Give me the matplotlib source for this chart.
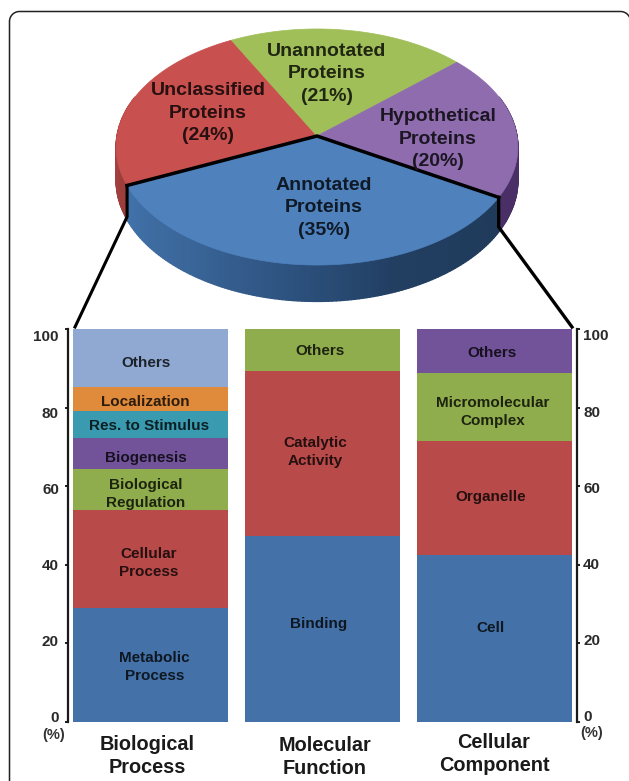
"""
Protein annotation breakdown: tilted pie of all proteins, with the annotated
slice expanded into three stacked GO category columns.

Output: out.png
"""

import matplotlib
import matplotlib.pyplot as plt
import numpy as np
from matplotlib.collections import PolyCollection
from matplotlib.colors import to_rgb
from matplotlib.patches import Polygon

matplotlib.use("Agg")

plt.rcParams["font.family"] = ["Liberation Sans", "DejaVu Sans"]
plt.rcParams["font.weight"] = "bold"

PIE_LABELS = ["Annotated\nProteins\n(35%)", "Unclassified\nProteins\n(24%)",
              "Unannotated\nProteins\n(21%)", "Hypothetical\nProteins\n(20%)"]
PIE_SHARES = [35, 24, 21, 20]
PIE_COLORS = ["#4f81bd", "#c8504e", "#a0bf58", "#8e6cae"]
PIE_LABEL_XY = [(324, 208), (208, 113), (327, 74), (438, 139)]

CATEGORIES = ["Biological\nProcess", "Molecular\nFunction", "Cellular\nComponent"]
CATEGORY_XY = [(147, 756), (325, 757), (494, 754)]

BP_LABELS = ["Metabolic\nProcess", "Cellular\nProcess", "Biological\nRegulation", "Biogenesis",
             "Res. to Stimulus", "Localization", "Others"]
BP_VALUES = [29.0, 25.0, 10.3, 7.9, 7.0, 6.0, 14.8]
BP_COLORS = ["#4472a8", "#b84a4a", "#8fad4c", "#72539a", "#3a9ab0", "#e08b3c", "#8fa9d2"]
BP_SHIFT = [(4, -2), (-2, -4), (-5, -4), (-5, -4), (-1, -2), (-5, -3), (-5, -5)]

MF_LABELS = ["Binding", "Catalytic\nActivity", "Others"]
MF_VALUES = [47.3, 42.1, 10.6]
MF_COLORS = ["#4472a8", "#b84a4a", "#8fad4c"]
MF_SHIFT = [(-4, 5), (-7, 1), (-3, -1)]

CC_LABELS = ["Cell", "Organelle", "Micromolecular\nComplex", "Others"]
CC_VALUES = [42.4, 29.2, 17.2, 11.2]
CC_COLORS = ["#4472a8", "#b84a4a", "#8fad4c", "#72539a"]
CC_SHIFT = [(-4, 11), (-4, 1), (-2, -5), (-2, -2)]

TICKS = [0, 20, 40, 60, 80, 100]

# shading of the pie rim, by angle around the pie
RIM_ANGLES = [-20, 30, 30.01, 70, 100, 125, 156, 156.01, 200]
RIM_COLORS = ["#4a2f66", "#4a2f66", "#1f3a5a", "#223f62", "#2e5482", "#3a6598", "#4172aa",
              "#9c3d3b", "#a84442"]

CX, CY = 317, 136
RX, RY = 200, 117
TILT = 0.0932
RIM = 33
START_ANGLE = 30


def project(phi, drop=0.0):
    """Tilted-circle projection: angle in degrees to canvas pixels."""
    phi = np.radians(phi)
    w = 1 - TILT * np.sin(phi)
    return CX + RX * np.cos(phi) / w, CY + RY * np.sin(phi) / w + drop * 1 / w


def dark(color, f=0.2):
    return tuple(c * f for c in to_rgb(color))


def draw_frame(ax, left=9.5, top=11.5, right=630.5, bottom=790, r=10):
    # open outline: the right and bottom sides fall outside the canvas
    t = np.radians(np.linspace(180, 270, 20))
    corner_l = np.column_stack([left + r + r * np.cos(t), top + r + r * np.sin(t)])
    t = np.radians(np.linspace(270, 360, 20))
    corner_r = np.column_stack([right - r + r * np.cos(t), top + r + r * np.sin(t)])
    pts = np.vstack([[(left, bottom)], corner_l, corner_r, [(right, bottom)]])
    ax.plot(pts[:, 0], pts[:, 1], color="#222222", lw=1.1)


def draw_pie(ax):
    phis = np.linspace(-20, 200, 221)
    rgb = np.array([to_rgb(c) for c in RIM_COLORS])
    polys, colors = [], []
    for a, b in zip(phis[:-1], phis[1:]):
        x0, y0 = project(a)
        x1, y1 = project(b)
        x2, y2 = project(b, RIM)
        x3, y3 = project(a, RIM)
        polys.append([(x0, y0), (x1, y1), (x2, y2), (x3, y3)])
        mid = (a + b) / 2
        colors.append([np.interp(mid, RIM_ANGLES, rgb[:, i]) for i in range(3)])
    ax.add_collection(PolyCollection(polys, facecolors=colors, edgecolors=colors, linewidths=1.0))

    edges = START_ANGLE + np.cumsum([0] + PIE_SHARES) * 3.6
    for i, color in enumerate(PIE_COLORS):
        arc = np.linspace(edges[i], edges[i + 1], 120)
        pts = [(CX, CY)] + [project(p) for p in arc]
        ax.add_patch(Polygon(pts, closed=True, facecolor=color, edgecolor=color, linewidth=0.5))

    for label, xy, color in zip(PIE_LABELS, PIE_LABEL_XY, PIE_COLORS):
        ax.text(*xy, label, ha="center", va="center", fontsize=14, linespacing=1.41,
                color=dark(color), zorder=6)

    # outline of the annotated slice and the lines leading down to the columns
    right = project(edges[0])
    left = project(edges[1])
    ax.plot([left[0], CX, right[0]], [left[1], CY, right[1]], color="black", lw=2.5,
            solid_joinstyle="miter", zorder=5)
    ax.plot([right[0], right[0], 572], [right[1], project(edges[0], RIM)[1] - 5, 327],
            color="black", lw=2.4, solid_joinstyle="miter", zorder=5)
    ax.plot([left[0], left[0], 75], [left[1], project(edges[1], RIM)[1] - 3, 327],
            color="black", lw=2.2, solid_joinstyle="miter", zorder=5)


def stack(ax, pos, values, colors, labels, shifts):
    bottom = 0
    for value, color, label, shift in zip(values, colors, labels, shifts):
        ax.bar(pos, value, width=0.9, bottom=bottom, color=color, linewidth=0, clip_on=False)
        ax.annotate(label, xy=(pos, bottom + value / 2), xytext=shift, textcoords="offset pixels",
                    ha="center", va="center", fontsize=11, linespacing=1.37, color=dark(color))
        bottom += value


def main():
    fig = plt.figure(figsize=(6.29, 7.81), dpi=100)

    canvas = fig.add_axes([0, 0, 1, 1], zorder=1)
    draw_frame(canvas)
    canvas.set_xlim(0, 629)
    canvas.set_ylim(781, 0)
    canvas.axis("off")
    draw_pie(canvas)

    for label, (x, y) in zip(CATEGORIES, CATEGORY_XY):
        canvas.text(x, y, label, ha="center", va="center", fontsize=14.3, linespacing=1.28,
                    color="#1a1a1a")
    canvas.text(54, 735, "(%)", ha="center", va="center", fontsize=10.5, color="#333333")
    canvas.text(592, 733, "(%)", ha="center", va="center", fontsize=10.5, color="#333333")

    # column panel spans x 68-577, y 329-722 in canvas pixels
    ax = fig.add_axes([68 / 629, 1 - 722 / 781, 509 / 629, 393 / 781], zorder=2)
    ax.set_facecolor("none")
    ax.set_xlim(-0.48, 2.48)
    ax.set_ylim(0, 100)
    stack(ax, 0, BP_VALUES, BP_COLORS, BP_LABELS, BP_SHIFT)
    stack(ax, 1, MF_VALUES, MF_COLORS, MF_LABELS, MF_SHIFT)
    stack(ax, 2, CC_VALUES, CC_COLORS, CC_LABELS, CC_SHIFT)

    ax.set_xticks([])
    ax.spines["top"].set_visible(False)
    ax.spines["bottom"].set_visible(False)
    ax.spines["left"].set_linewidth(1.6)
    ax.spines["right"].set_linewidth(1.6)
    ax.spines["left"].set_color("#1a1a1a")
    ax.spines["right"].set_color("#1a1a1a")
    ax.yaxis.set_ticks_position("both")
    ax.set_yticks(TICKS)
    ax.set_yticklabels([])
    ax.tick_params(axis="y", which="major", direction="out", length=2.4, width=1.4, color="#1a1a1a")

    # tick labels sit slightly inside the tick span
    for tick in TICKS:
        y = 1.4 + 0.97 * tick
        ax.annotate(str(tick), xy=(0, y), xycoords=ax.get_yaxis_transform(), xytext=(-9, -2),
                    textcoords="offset pixels", ha="right", va="center", fontsize=11, color="#2a2a2a")
        ax.annotate(str(tick), xy=(1, y), xycoords=ax.get_yaxis_transform(), xytext=(6, -1),
                    textcoords="offset pixels", ha="left", va="center", fontsize=11, color="#2a2a2a")

    fig.savefig("out.png", dpi=100)
    plt.close(fig)


if __name__ == "__main__":
    main()
